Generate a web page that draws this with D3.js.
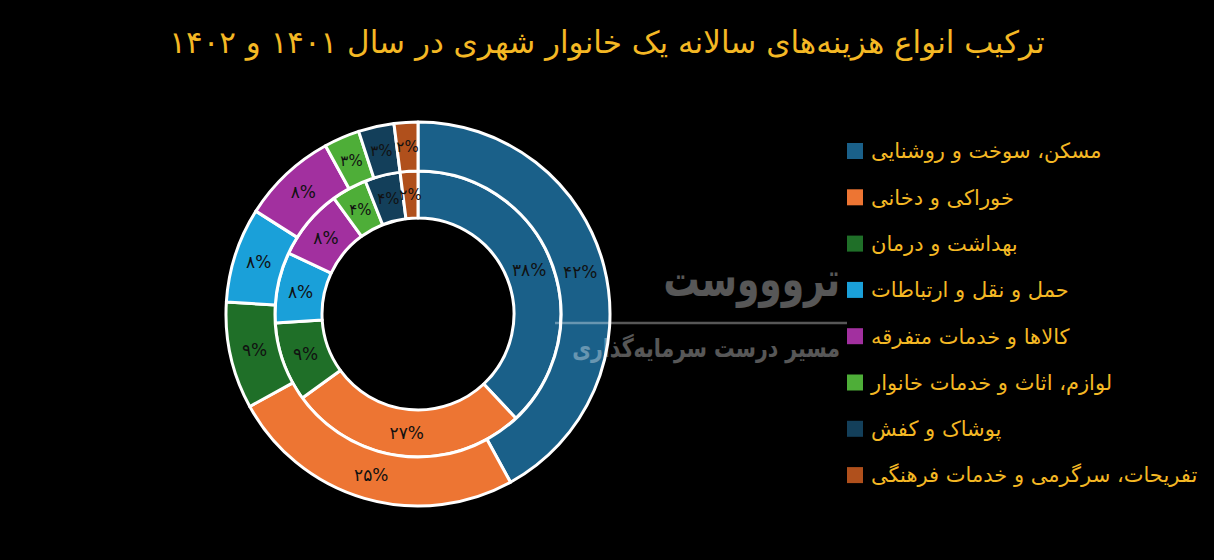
<!DOCTYPE html>
<html><head><meta charset="utf-8">
<script src="https://cdn.jsdelivr.net/npm/d3@7"></script>
<style>html,body{margin:0;padding:0;background:#000;}svg{display:block;}</style>
</head><body>
<svg id="chart" width="1214" height="560"></svg>
<script>
const categories = ["مسکن، سوخت و روشنایی","خوراکی و دخانی","بهداشت و درمان","حمل و نقل و ارتباطات","کالاها و خدمات متفرقه","لوازم، اثاث و خدمات خانوار","پوشاک و کفش","تفریحات، سرگرمی و خدمات فرهنگی"];
const values1401 = [38, 27, 9, 8, 8, 4, 4, 2];
const values1402 = [42, 25, 9, 8, 8, 3, 3, 2];
const colors = ["#1a6089","#ed7533","#1f6f28","#1aa0d9","#a2309f","#4eae38","#133f5a","#b0501c"];
const title = "ترکیب انواع هزینه‌های سالانه یک خانوار شهری در سال ۱۴۰۱ و ۱۴۰۲";
const faDigits = n => String(n).replace(/\d/g, d => "۰۱۲۳۴۵۶۷۸۹"[d]);

const svg = d3.select("#chart");
svg.append("rect").attr("width",1214).attr("height",560).attr("fill","#000");

svg.append("text").attr("x",607).attr("y",53).attr("text-anchor","middle")
  .attr("font-family","DejaVu Sans, sans-serif").attr("font-size",31).attr("fill","#f4b824")
  .text(title);

const cx = 418, cy = 314;
const g = svg.append("g").attr("transform",`translate(${cx},${cy})`);
const pie = d3.pie().sort(null).value(d=>d);
const color = d3.scaleOrdinal().domain(d3.range(categories.length)).range(colors);

function ring(values, r0, r1){
  const arcs = pie(values);
  const arc = d3.arc().innerRadius(r0).outerRadius(r1);
  const gg = g.append("g");
  gg.selectAll("path").data(arcs).join("path")
    .attr("d",arc).attr("fill",(d,i)=>color(i))
    .attr("stroke","#fff").attr("stroke-width",3).attr("stroke-linejoin","round");
  const lab = d3.arc().innerRadius((r0+r1)/2).outerRadius((r0+r1)/2);
  gg.selectAll("text").data(arcs).join("text")
    .attr("transform",d=>`translate(${lab.centroid(d)})`)
    .attr("text-anchor","middle").attr("dy","0.35em")
    .attr("font-family","DejaVu Sans, sans-serif").attr("font-size",d=>d.data<=4?15:17).attr("fill","#111")
    .text(d=>faDigits(d.data)+"%");
}
ring(values1401, 96, 143);
ring(values1402, 143, 192);

// legend
const lg = svg.append("g");
const rows = lg.selectAll("g").data(categories).join("g")
  .attr("transform",(d,i)=>`translate(847,${151 + i*46.3})`);
rows.append("rect").attr("x",0).attr("y",-8).attr("width",16).attr("height",16).attr("fill",(d,i)=>color(i));
rows.append("text").attr("x",24).attr("dy","0.35em").attr("text-anchor","start")
  .attr("font-family","DejaVu Sans, sans-serif").attr("font-size",21).attr("fill","#f4b824")
  .text(d=>d);

// watermark
const wm = svg.append("g").attr("opacity",0.34);
wm.append("text").attr("transform","translate(840,296) scale(1,1.35)").attr("text-anchor","end")
  .attr("font-family","DejaVu Sans, sans-serif").attr("font-weight","bold").attr("font-size",36).attr("fill","#fff")
  .text("تروووست");
wm.append("line").attr("x1",555).attr("x2",847).attr("y1",323).attr("y2",323).attr("stroke","#fff").attr("stroke-width",2.5);
wm.append("text").attr("transform","translate(840,357) scale(1,1.25)").attr("text-anchor","end")
  .attr("font-family","DejaVu Sans, sans-serif").attr("font-weight","bold").attr("font-size",20.5).attr("fill","#fff")
  .text("مسیر درست سرمایه‌گذاری");
</script>
</body></html>
